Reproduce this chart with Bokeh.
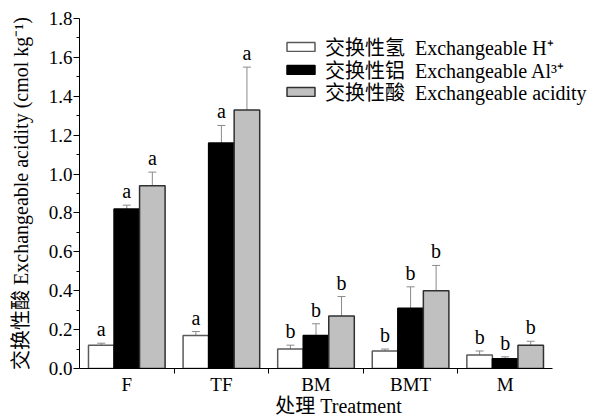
from bokeh.plotting import figure
from bokeh.models import (Range1d, FixedTicker, ColumnDataSource, Whisker, TeeHead,
                          Legend, LegendItem)
from bokeh.core.properties import value
from bokeh.embed import file_html
from bokeh.resources import INLINE
import numpy as np

categories = ["F", "TF", "BM", "BMT", "M"]
h_vals = [0.12, 0.17, 0.10, 0.09, 0.07]
h_err = [0.01, 0.02, 0.02, 0.01, 0.02]
al_vals = [0.82, 1.16, 0.17, 0.31, 0.05]
al_err = [0.02, 0.09, 0.06, 0.11, 0.01]
acid_vals = [0.94, 1.33, 0.27, 0.40, 0.12]
acid_err = [0.07, 0.22, 0.10, 0.13, 0.02]
h_letters = ["a", "a", "b", "b", "b"]
al_letters = ["a", "a", "b", "b", "b"]
acid_letters = ["a", "a", "b", "b", "b"]
y_ticks = [0.0, 0.2, 0.4, 0.6, 0.8, 1.0, 1.2, 1.4, 1.6, 1.8]
y_minor = [0.1, 0.3, 0.5, 0.7, 0.9, 1.1, 1.3, 1.5, 1.7]
legend_labels = ["交换性氢\u00a0\u00a0Exchangeable H⁺",
                 "交换性铝\u00a0\u00a0Exchangeable Al³⁺",
                 "交换性酸\u00a0\u00a0Exchangeable acidity"]

SERIF = "'Liberation Serif', 'Noto Sans CJK SC'"

# frame spans to the right edge so the legend is not clipped; the x axis line
# itself is bounded to the category span (-0.5 .. 4.5)
p = figure(width=597, height=419, output_backend="svg", toolbar_location=None,
           x_range=Range1d(-0.5, 4.976), y_range=Range1d(0, 1.8),
           min_border_left=79, min_border_right=0, min_border_top=18,
           min_border_bottom=51)
p.outline_line_color = None
p.xgrid.visible = False
p.ygrid.visible = False
p.background_fill_color = "white"
p.border_fill_color = "white"

bw = 0.27
idx = np.arange(len(categories))
series = [
    (h_vals, h_err, h_letters, -bw, "white", "#5a5a5a"),
    (al_vals, al_err, al_letters, 0.0, "black", "black"),
    (acid_vals, acid_err, acid_letters, bw, "#c0c0c0", "#303030"),
]
renderers = []
for vals, errs, letters, off, fill, line in series:
    v = np.array(vals)
    e = np.array(errs)
    src = ColumnDataSource(dict(x=idx + off, top=v, upper=v + e, lower=v - e,
                                lab=letters, ly=v + e))
    r = p.vbar(x="x", top="top", width=bw, bottom=0, source=src,
               fill_color=fill, line_color=line, line_width=1.5)
    renderers.append(r)
    w = Whisker(base="x", upper="upper", lower="lower", source=src,
                line_color="#8a8a8a", line_width=1,
                upper_head=TeeHead(size=8, line_color="#8a8a8a", line_width=1),
                lower_head=TeeHead(size=8, line_color="#8a8a8a", line_width=1))
    p.add_layout(w)
    p.text(x="x", y="ly", text="lab", source=src, text_align="center",
           text_baseline="bottom", y_offset=-3,
           text_font=value("Liberation Serif"), text_font_size="20px",
           text_color="black")

# x axis
p.xaxis.bounds = (-0.5, 4.5)
p.xaxis.ticker = FixedTicker(ticks=list(idx), minor_ticks=[0.5, 1.5, 2.5, 3.5])
p.xaxis.major_label_overrides = {int(i): c for i, c in zip(idx, categories)}
p.xaxis.major_tick_out = 0
p.xaxis.major_tick_in = 0
p.xaxis.minor_tick_out = 5
p.xaxis.minor_tick_in = 0
p.xaxis.major_label_standoff = 0
p.xaxis.axis_label = "处理 Treatment"
p.xaxis.axis_label_standoff = -3

# y axis
p.yaxis.ticker = FixedTicker(ticks=y_ticks, minor_ticks=y_minor)
p.yaxis.major_label_overrides = {t: f"{t:.1f}" for t in y_ticks}
p.yaxis.major_tick_out = 6
p.yaxis.major_tick_in = 0
p.yaxis.minor_tick_out = 3
p.yaxis.minor_tick_in = 0
p.yaxis.major_label_standoff = 1
p.yaxis.axis_label = "交换性酸 Exchangeable acidity (cmol kg⁻¹)"
p.yaxis.axis_label_standoff = 14

for ax in (p.xaxis[0], p.yaxis[0]):
    ax.axis_line_color = "black"
    ax.axis_line_width = 1
    ax.major_tick_line_color = "black"
    ax.minor_tick_line_color = "black"
    ax.major_label_text_font = SERIF
    ax.major_label_text_font_size = "19px"
    ax.major_label_text_color = "black"
    ax.axis_label_text_font = SERIF
    ax.axis_label_text_font_style = "normal"
    ax.axis_label_text_font_size = "20px"
    ax.axis_label_text_color = "black"

# one legend per row so the row pitch matches the reference
row_y = [307, 284, 262]
for lab, r, yy in zip(legend_labels, renderers, row_y):
    legend = Legend(items=[LegendItem(label=lab, renderers=[r])], location=(204, yy))
    legend.background_fill_alpha = 0
    legend.border_line_alpha = 0
    legend.padding = 0
    legend.margin = 0
    legend.glyph_width = 35
    legend.glyph_height = 11
    legend.spacing = 0
    legend.label_standoff = 7
    legend.label_text_font = SERIF
    legend.label_text_font_size = "20px"
    legend.label_text_color = "black"
    legend.label_text_baseline = "middle"
    p.add_layout(legend, "center")

open("out.html", "w").write(file_html(p, INLINE))
